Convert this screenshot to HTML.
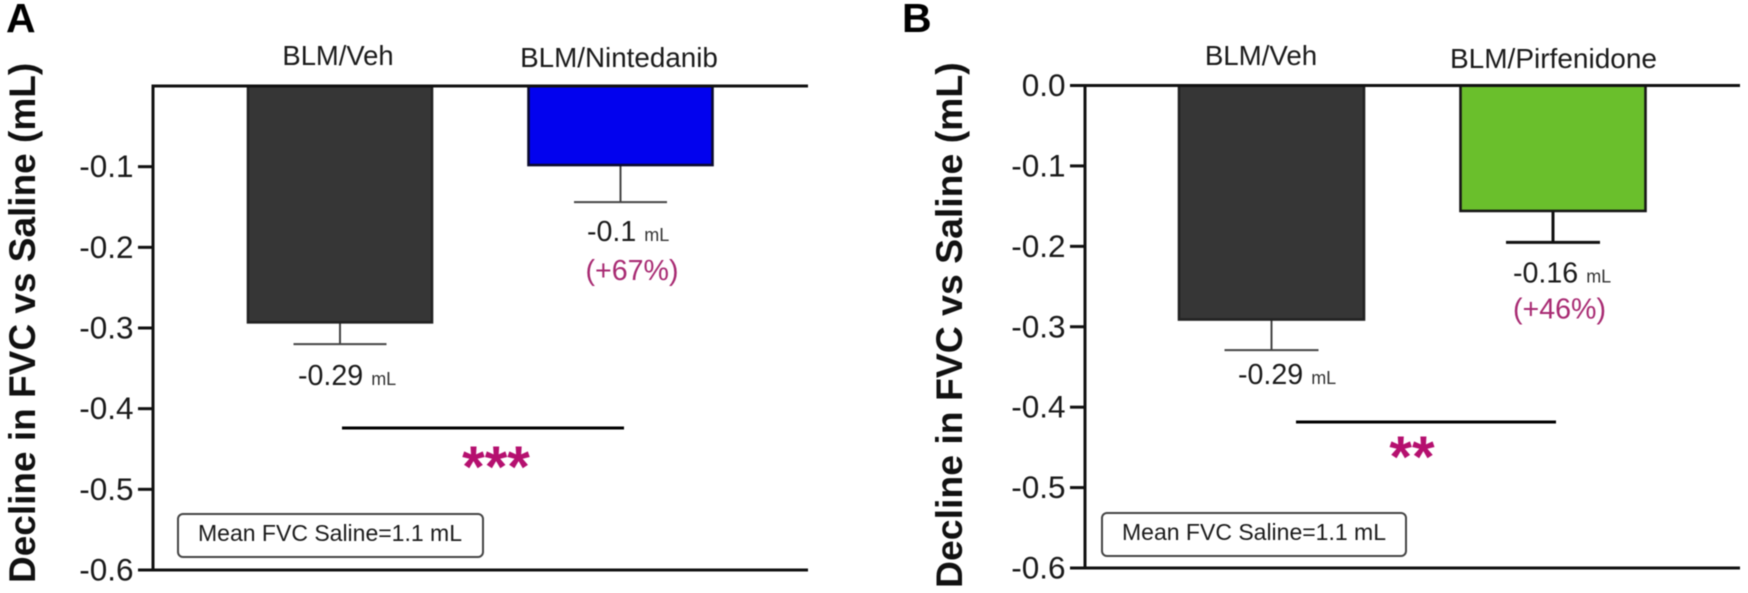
<!DOCTYPE html>
<html lang="en">
<head>
<meta charset="utf-8">
<title>Decline in FVC vs Saline</title>
<style>
  html, body { margin: 0; padding: 0; background: #fff; }
  #figure { display: block; width: 1748px; height: 593px; filter: blur(0.45px); font-family: "Liberation Sans", Arial, sans-serif; }
</style>
</head>
<body>
<svg id="figure" xmlns="http://www.w3.org/2000/svg" width="1748" height="593" viewBox="0 0 1748 593">
  <rect width="1748" height="593" fill="#fff"/>
</svg>
<script>
// Panel A data
const categoriesA = ['BLM/Veh', 'BLM/Nintedanib'];
const valuesA = [-0.293, -0.098];
const errorLowA = [-0.32, -0.144];
const printedA = ['-0.29', '-0.1'];
const changesA = ['', '(+67%)'];
const tickValuesA = [-0.1, -0.2, -0.3, -0.4, -0.5, -0.6];
const tickLabelsA = ['-0.1', '-0.2', '-0.3', '-0.4', '-0.5', '-0.6'];
const significanceA = '***';

// Panel B data
const categoriesB = ['BLM/Veh', 'BLM/Pirfenidone'];
const valuesB = [-0.291, -0.156];
const errorLowB = [-0.329, -0.195];
const printedB = ['-0.29', '-0.16'];
const changesB = ['', '(+46%)'];
const tickValuesB = [0, -0.1, -0.2, -0.3, -0.4, -0.5, -0.6];
const tickLabelsB = ['0.0', '-0.1', '-0.2', '-0.3', '-0.4', '-0.5', '-0.6'];
const significanceB = '**';

const yDomainMin = -0.6;
const yAxisTitle = 'Decline in FVC vs Saline (mL)';
const salineNote = 'Mean FVC Saline=1.1 mL';
const unitLabel = 'mL';

const SVG_NS = 'http://www.w3.org/2000/svg';
const root = document.getElementById('figure');

function make(tag, parent, attrs, text) {
  const el = document.createElementNS(SVG_NS, tag);
  Object.keys(attrs).forEach(function (k) { el.setAttribute(k, attrs[k]); });
  if (text !== undefined) el.textContent = text;
  parent.appendChild(el);
  return el;
}

function drawPanel(p) {
  const y = function (v) { return p.top + (v / yDomainMin) * (p.bottom - p.top); };
  const x = function (i) { return p.firstCenter + i * p.step; };

  const panel = make('g', root, {});
  
  

  const letter = make('text', panel, { x: p.letterX, y: 32, 'font-size': 41, 'font-weight': 'bold', fill: '#000' }, p.letter);
  
  

  const title = make('text', panel, { transform: 'translate(' + p.titleX + ',' + p.titleY + ') rotate(-90)', 'font-size': p.titleSize, 'font-weight': 'bold', fill: '#111' }, yAxisTitle);
  
  

  // bars, error bars, labels
  p.values.forEach(function (v, i) {
    const cx = x(i);

    const errStem = make('line', panel, { x1: cx, x2: cx, y1: y(v), y2: y(p.errors[i]), stroke: p.errColors[i], 'stroke-width': p.errWidths[i] });
    
    

    const errCap = make('line', panel, { x1: cx - p.capHalf, x2: cx + p.capHalf, y1: y(p.errors[i]), y2: y(p.errors[i]), stroke: p.errColors[i], 'stroke-width': p.errWidths[i] });
    
    

    const bar = make('rect', panel, { x: cx - p.barWidth / 2, y: y(0), width: p.barWidth, height: y(v) - y(0), fill: p.fills[i], stroke: p.barStrokes[i], 'stroke-width': 2.6 });
    
    

    const cat = make('text', panel, { x: cx + p.catDx[i], y: p.catY[i], 'text-anchor': 'middle', 'font-size': p.catSize[i], fill: '#1a1a1a' }, p.categories[i]);
    
    

    const valueY = y(p.errors[i]) + p.valueGap[i];
    const val = make('text', panel, { x: cx + p.valueDx[i], y: valueY, 'font-size': 28.6, fill: '#1a1a1a' }, p.printed[i]);
    
    

    const unit = make('tspan', val, { dx: 8, 'font-size': 18, fill: '#333' }, unitLabel);
    
    

    if (p.changes[i]) {
      const change = make('text', panel, { x: cx + p.changeDx, y: valueY + p.changeGap, 'font-size': 28.6, fill: '#a82a72' }, p.changes[i]);
      
      
    }
  });

  // axes
  const axisY = make('line', panel, { x1: p.axisX, x2: p.axisX, y1: y(0), y2: y(yDomainMin), stroke: '#111', 'stroke-width': 3 });
  
  

  const axisTop = make('line', panel, { x1: p.axisX - 1.5, x2: p.right, y1: y(0), y2: y(0), stroke: '#111', 'stroke-width': 3 });
  
  

  const axisBottom = make('line', panel, { x1: p.axisX, x2: p.right, y1: y(yDomainMin), y2: y(yDomainMin), stroke: '#111', 'stroke-width': 3 });
  
  

  p.ticks.forEach(function (t, i) {
    const tick = make('line', panel, { x1: p.axisX - 15, x2: p.axisX, y1: y(t), y2: y(t), stroke: '#111', 'stroke-width': 3 });
    
    

    const label = make('text', panel, { x: p.axisX - 19.5, y: y(t) + 10.5, 'text-anchor': 'end', 'font-size': 31.5, fill: '#1a1a1a' }, p.tickLabels[i]);
    
    
  });

  // significance
  const sig = make('line', panel, { x1: p.sigX1, x2: p.sigX2, y1: p.sigY, y2: p.sigY, stroke: '#000', 'stroke-width': 3 });
  
  

  const stars = make('text', panel, { x: p.starX, y: p.starY, 'text-anchor': 'middle', 'font-size': 58, 'font-weight': 'bold', fill: '#b5106f' }, p.stars);
  
  

  // note box
  const box = make('rect', panel, { x: p.boxX, y: p.boxY, width: p.boxW, height: 43, rx: 5, fill: '#fff', stroke: '#444', 'stroke-width': 2 });
  
  

  const note = make('text', panel, { x: p.boxX + 20, y: p.boxY + 27, 'font-size': 23, fill: '#1a1a1a' }, salineNote);
  
  
}

drawPanel({
  id: 'a', letter: 'A', letterX: 6,
  top: 86, bottom: 570, axisX: 153, right: 808,
  firstCenter: 340, step: 280.5, barWidth: 184, capHalf: 46.5,
  values: valuesA, errors: errorLowA, categories: categoriesA, printed: printedA, changes: changesA,
  ticks: tickValuesA, tickLabels: tickLabelsA, stars: significanceA,
  fills: ['#363636', '#0202ee'], barStrokes: ['#222', '#0a0a30'],
  errColors: ['#444', '#444'], errWidths: [2, 2],
  titleX: 35, titleY: 583, titleSize: 37,
  catDx: [-2, -1.5], catY: [65, 67], catSize: [27.4, 27.8],
  valueDx: [-42, -33.5], valueGap: [41, 39], changeDx: -35, changeGap: 39,
  sigX1: 342, sigX2: 624, sigY: 428, starX: 496, starY: 487,
  boxX: 178, boxY: 514, boxW: 305
});

drawPanel({
  id: 'b', letter: 'B', letterX: 902,
  top: 85.5, bottom: 568, axisX: 1085, right: 1740,
  firstCenter: 1271.5, step: 281.5, barWidth: 185, capHalf: 47,
  values: valuesB, errors: errorLowB, categories: categoriesB, printed: printedB, changes: changesB,
  ticks: tickValuesB, tickLabels: tickLabelsB, stars: significanceB,
  fills: ['#363636', '#6abf2c'], barStrokes: ['#222', '#161616'],
  errColors: ['#444', '#111'], errWidths: [2, 3],
  titleX: 962, titleY: 588, titleSize: 37.4,
  catDx: [-10.5, 0.5], catY: [65, 68], catSize: [27.7, 28],
  valueDx: [-33.5, -40], valueGap: [34, 40], changeDx: -40, changeGap: 36,
  sigX1: 1296, sigX2: 1556, sigY: 422, starX: 1412, starY: 477,
  boxX: 1102, boxY: 513, boxW: 304
});
</script>
</body>
</html>
